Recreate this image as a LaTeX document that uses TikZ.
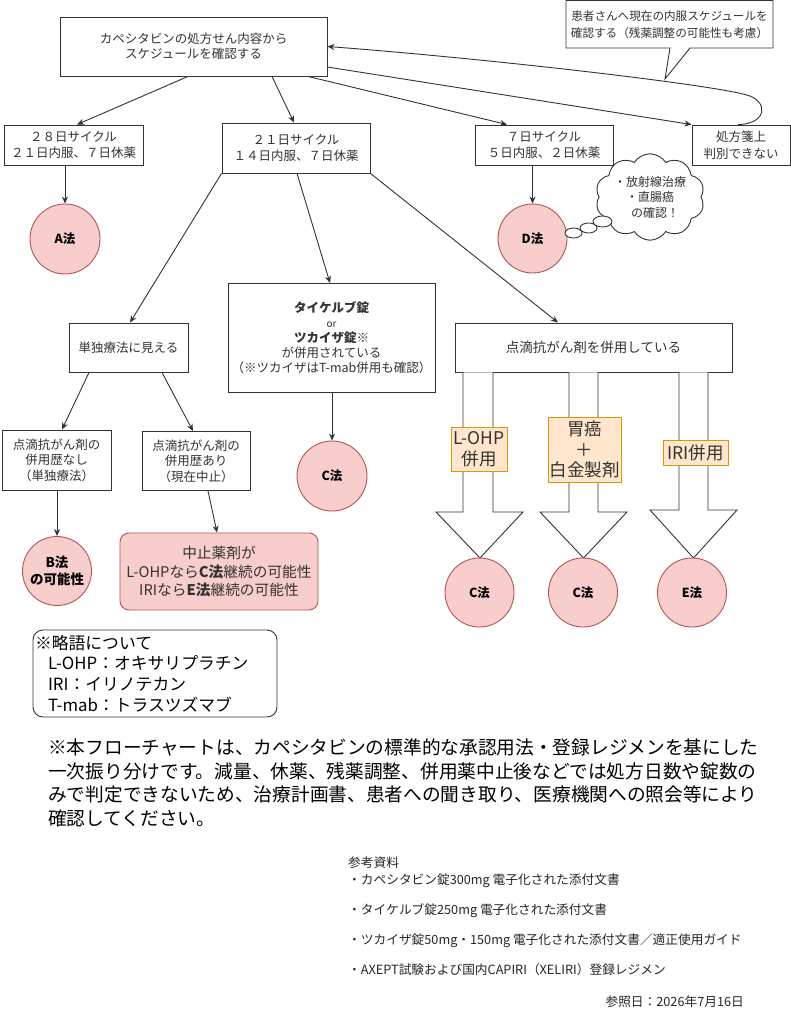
\documentclass[tikz,border=0pt]{standalone}
\usepackage{fontspec}
\setmainfont{Noto Sans CJK JP}
\usetikzlibrary{arrows.meta,shapes.symbols,shapes.geometric,calc}
\definecolor{pinkF}{HTML}{F8CECC}
\definecolor{pinkD}{HTML}{B85450}
\definecolor{oranF}{HTML}{FFE6CC}
\definecolor{oranD}{HTML}{D79B00}
\definecolor{txt}{HTML}{333333}
\definecolor{ln}{HTML}{333333}
\newcommand\fsz[2]{\fontsize{#1}{#2}\selectfont}
\begin{document}
\begin{tikzpicture}[x=1pt,y=-1pt,
  box/.style={draw=ln,line width=0.9pt,fill=white,inner sep=0pt,align=center,text=txt,font=\fsz{12.5}{16.5}},
  circ/.style={circle,draw=pinkD,fill=pinkF,line width=0.9pt,inner sep=0pt,minimum size=69pt,align=center,text=black,font=\bfseries\fsz{12.5}{16}},
  lab/.style={draw=oranD,fill=oranF,line width=0.9pt,inner sep=0pt,align=center,text=txt,font=\fsz{17.5}{20.5}},
  arr/.style={draw=ln,line width=0.9pt,-{Stealth[length=7pt,width=6pt]}},
  blockarrow/.style={draw=ln,line width=0.9pt,fill=white,line join=miter},
  bubble/.style={ellipse,draw=ln,line width=0.9pt,fill=white,inner sep=0pt}
  ]
\useasboundingbox[fill=white] (0,0) rectangle (791,1024);

% top row
\node[box,minimum width=267pt,minimum height=59pt,font=\fsz{12.5}{15}] (top) at (193.5,46.5) {カペシタビンの処方せん内容から\\スケジュールを確認する};
\draw[ln,line width=0.9pt,fill=white,line join=miter] (566,0.5) -- (773,0.5) -- (773,48) -- (690,48) -- (665,79) -- (670,48) -- (566,48) -- cycle;
\node[text=txt,font=\fsz{11.6}{17},align=center,inner sep=0pt] (call) at (669.5,24.5) {患者さんへ現在の内服スケジュールを\\確認する（残薬調整の可能性も考慮）};

\node[box,minimum width=139pt,minimum height=40pt] (n28) at (73.5,145) {２８日サイクル\\２１日内服、７日休薬};
\node[box,minimum width=148pt,minimum height=50pt] (n21) at (296,148) {２１日サイクル\\１４日内服、７日休薬};
\node[box,minimum width=138pt,minimum height=40pt] (n7) at (544,145) {７日サイクル\\５日内服、２日休薬};
\node[box,minimum width=98pt,minimum height=40pt] (nunk) at (741,145) {処方箋上\\判別できない};

\draw[arr] (top.south -| 188,0) -- (n28.north -| 77,0);
\draw[arr] (top.south -| 272,0) -- (n21.north -| 294,0);
\draw[arr] (top.south -| 308,0) -- (n7.north -| 507,0);
\draw[arr] (top.east |- 0,67) -- (nunk.north west);
\draw[arr] (nunk.north -| 738,0) .. controls (768,124) and (769,100) .. (745,94.5) .. controls (700,83) and (480,58) .. (top.east);

% circles A, D
\node[circ,minimum size=70pt] (cA) at (65,239) {A法};
\node[circ] (cD) at (532.5,238.5) {D法};
\draw[arr] (cA.north |- n28.south) -- (cA.north);
\draw[arr] (cD.north |- n7.south) -- (cD.north);

% cloud
\node[cloud,cloud puffs=10,cloud puff arc=115,aspect=1.4,draw=ln,line width=0.9pt,fill=white,minimum width=97pt,minimum height=69pt,inner sep=0pt,align=center,text=txt,font=\fsz{12}{15.5}] (cloud) at (650,197) {・放射線治療\\・直腸癌\\\hspace*{10pt}の確認！};
\node[bubble,minimum width=17pt,minimum height=10pt] (b1) at (573.5,233) {};
\node[bubble,minimum width=17pt,minimum height=10pt] (b2) at (588.5,228) {};
\node[bubble,minimum width=19pt,minimum height=11pt] (b3) at (602.5,221.5) {};

% second level
\node[box,minimum width=119pt,minimum height=49pt] (ntan) at (128.5,347.5) {単独療法に見える};
\node[box,minimum width=207pt,minimum height=109pt,font=\fsz{12.5}{15}] (ntyk) at (331.5,338) {\textbf{タイケルブ錠}\\{\fsz{10}{13}or}\\\textbf{ツカイザ錠}※\\が併用されている\\（※ツカイザはT-mab併用も確認）};
\node[box,minimum width=277pt,minimum height=49pt,font=\fsz{13.5}{16}] (ntd) at (593.5,347.5) {点滴抗がん剤を併用している};

\draw[arr] (n21.south west) -- (ntan.north -| 130,0);
\draw[arr] (n21.south -| 297,0) -- (ntyk.north -| 330,0);
\draw[arr] (n21.south east) -- (ntd.north -| 558,0);

% third level left
\node[box,minimum width=109pt,minimum height=60pt,font=\fsz{12.5}{15.5}] (nnashi) at (56.5,460) {点滴抗がん剤の\\併用歴なし\\（単独療法）};
\node[box,minimum width=108pt,minimum height=59pt,font=\fsz{12.5}{15.5}] (nari) at (196,461) {点滴抗がん剤の\\併用歴あり\\（現在中止）};
\draw[arr] (ntan.south -| 89,0) -- (nnashi.north -| 62,0);
\draw[arr] (ntan.south -| 162,0) -- (nari.north -| 193,0);

\node[circ,font=\bfseries\fsz{13.5}{17}] (cB) at (57,571) {B法\\の可能性};
\node[draw=pinkD,fill=pinkF,line width=0.9pt,rounded corners=9pt,minimum width=198pt,minimum height=77pt,inner sep=0pt,align=center,text=txt,font=\fsz{14.7}{18.5}] (rbox) at (219,571.5) {中止薬剤が\\L-OHPなら\textbf{C法}継続の可能性\\IRIなら\textbf{E法}継続の可能性};
\draw[arr] (cB.north |- nnashi.south) -- (cB.north);
\draw[arr] (nari.south -| 208,0) -- (rbox.north -| 217,0);

\node[circ,minimum size=70pt] (cC1) at (332,476) {C法};
\draw[arr] (cC1.north |- ntyk.south) -- (cC1.north);

% block arrows
\draw[blockarrow] (ntd.south -| 463,0) -- (463,512) -- (436,512) -- (480,558) -- (523,512) -- (493,512) -- (ntd.south -| 493,0);
\draw[blockarrow] (ntd.south -| 569,0) -- (569,512) -- (540,512) -- (583.5,558) -- (627,512) -- (598,512) -- (ntd.south -| 598,0);
\draw[blockarrow] (ntd.south -| 679,0) -- (679,510) -- (650,510) -- (693.5,558) -- (737,510) -- (708,510) -- (ntd.south -| 708,0);

\node[lab,minimum width=56pt,minimum height=44pt] (lab1) at (479,449) {L-OHP\\併用};
\node[lab,minimum width=73pt,minimum height=65pt] (lab2) at (584.5,449.5) {胃癌\\＋\\白金製剤};
\node[lab,minimum width=65pt,minimum height=25pt] (lab3) at (695.5,452.5) {IRI併用};

\node[circ] (cC2) at (479.5,592.5) {C法};
\node[circ] (cC3) at (583,592.5) {C法};
\node[circ] (cE) at (692,592.5) {E法};

% abbreviations
\node[draw=ln,line width=0.9pt,rounded corners=10pt,minimum width=244pt,minimum height=87pt,inner xsep=1.5pt,inner ysep=0pt,text width=240pt,align=left,text=black,font=\fsz{16.8}{20.7}] (abbr) at (155,673.5) {※略語について\\\hspace*{13pt}L-OHP：オキサリプラチン\\\hspace*{13pt}IRI：イリノテカン\\\hspace*{13pt}T-mab：トラスツズマブ};

% note
\node[anchor=west,align=left,inner sep=0pt,text=black,font=\fsz{18.7}{23.5}] (note) at (48,783) {※本フローチャートは、カペシタビンの標準的な承認用法・登録レジメンを基にした\\一次振り分けです。減量、休薬、残薬調整、併用薬中止後などでは処方日数や錠数の\\みで判定できないため、治療計画書、患者への聞き取り、医療機関への照会等により\\確認してください。};

% references
\node[anchor=north west,align=left,inner sep=0pt,text=black!85,font=\fsz{12.7}{17}] (refs) at (348,857) {参考資料\\・カペシタビン錠300mg 電子化された添付文書\\[13pt]・タイケルブ錠250mg 電子化された添付文書\\[13pt]・ツカイザ錠50mg・150mg 電子化された添付文書／適正使用ガイド\\[13pt]・AXEPT試験および国内CAPIRI（XELIRI）登録レジメン};
\node[anchor=east,inner sep=0pt,text=black!85,font=\fsz{12.7}{17}] (date) at (744,1002) {参照日：2026年7月16日};
\end{tikzpicture}
\end{document}
